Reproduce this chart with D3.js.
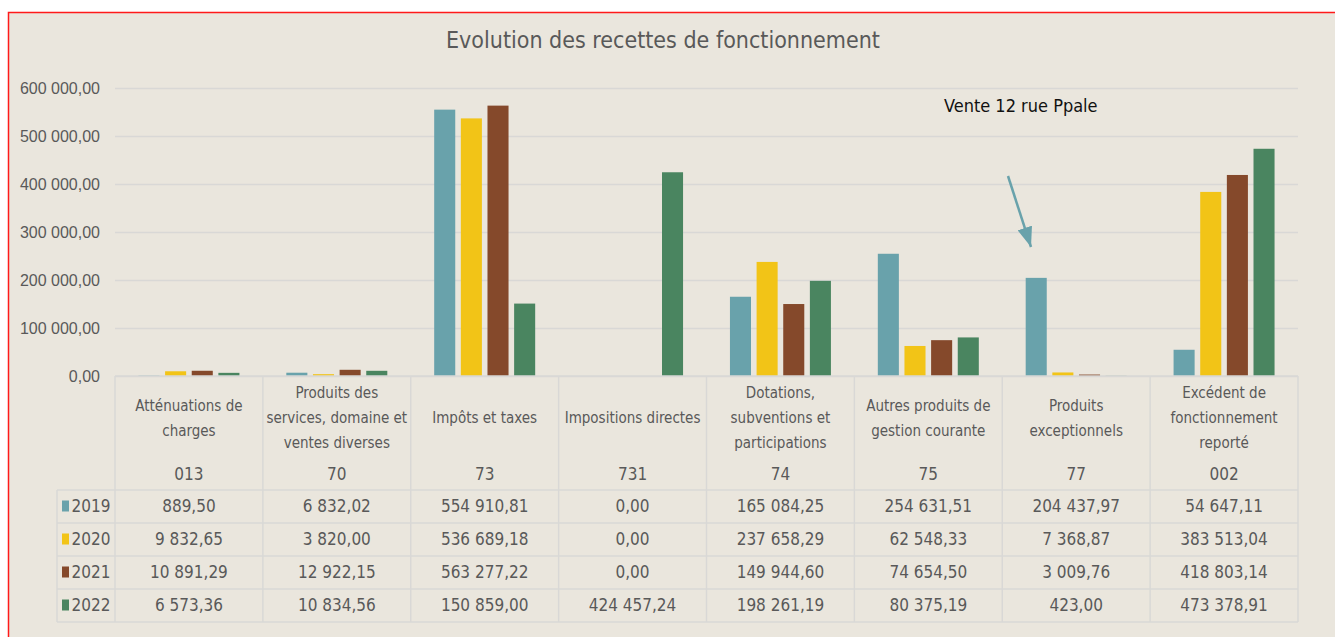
<!DOCTYPE html>
<html>
<head>
<meta charset="utf-8">
<script src="https://cdn.jsdelivr.net/npm/d3@7"></script>
<style>
  body { margin: 0; background: #fff; }
  text { font-family: "Liberation Sans Narrow", "DejaVu Sans Condensed", "Liberation Sans", sans-serif; }
</style>
</head>
<body>
<div id="chart"></div>
<script>
// categories (label lines + account code)
var catLabels = [
  ["Atténuations de", "charges"],
  ["Produits des", "services, domaine et", "ventes diverses"],
  ["Impôts et taxes"],
  ["Impositions directes"],
  ["Dotations,", "subventions et", "participations"],
  ["Autres produits de", "gestion courante"],
  ["Produits", "exceptionnels"],
  ["Excédent de", "fonctionnement", "reporté"]
];
var catCodes = ["013", "70", "73", "731", "74", "75", "77", "002"];

var years = ["2019", "2020", "2021", "2022"];
var colors = ["#69A2AB", "#F2C417", "#85492B", "#4A8560"];

var v2019 = [889.50, 6832.02, 554910.81, 0.00, 165084.25, 254631.51, 204437.97, 54647.11];
var v2020 = [9832.65, 3820.00, 536689.18, 0.00, 237658.29, 62548.33, 7368.87, 383513.04];
var v2021 = [10891.29, 12922.15, 563277.22, 0.00, 149944.60, 74654.50, 3009.76, 418803.14];
var v2022 = [6573.36, 10834.56, 150859.00, 424457.24, 198261.19, 80375.19, 423.00, 473378.91];

var yTicks = [0, 100000, 200000, 300000, 400000, 500000, 600000];

var series = [v2019, v2020, v2021, v2022];

var fr = d3.formatLocale({decimal: ",", thousands: " ", grouping: [3], currency: ["", "€"]});
var fmt = fr.format(",.2f");

var width = 1335, height = 637;
var left = 115, right = 1298, plotTop = 88, base = 376;

var svg = d3.select("#chart").append("svg")
    .attr("width", width)
    .attr("height", height);

// chart area with red frame
svg.append("rect")
    .attr("x", 8.5).attr("y", 12.5)
    .attr("width", 1400).attr("height", 700)
    .attr("fill", "#EAE6DD")
    .attr("stroke", "#FF1A1A")
    .attr("stroke-width", 1.5);

var x0 = d3.scaleBand()
    .domain(d3.range(catCodes.length))
    .range([left, right]);

var x1 = d3.scaleBand()
    .domain(years)
    .range([0, x0.bandwidth()])
    .paddingInner(0.21)
    .paddingOuter(0.88);

var y = d3.scaleLinear()
    .domain([0, 600000])
    .range([base, plotTop]);

// title
svg.append("text")
    .attr("x", 663).attr("y", 48)
    .attr("text-anchor", "middle")
    .attr("font-size", "23px")
    .attr("fill", "#595959")
    .text("Evolution des recettes de fonctionnement");

// gridlines + y axis
var yAxis = svg.append("g")
    .attr("transform", "translate(" + left + ",0)")
    .call(d3.axisLeft(y).tickValues(yTicks).tickSize(-(right - left)).tickPadding(15).tickFormat(fmt));
yAxis.select(".domain").remove();
yAxis.selectAll(".tick line")
    .attr("stroke", "#D9D8D6")
    .attr("stroke-width", 1.5);
yAxis.selectAll(".tick text")
    .attr("fill", "#595959")
    .attr("font-size", "16px")
    .style("font-family", "'Liberation Sans', Arial, sans-serif");

// bars
var groups = svg.selectAll(".grp")
    .data(catCodes)
    .join("g")
      .attr("class", "grp")
      .attr("transform", function(d, i) { return "translate(" + x0(i) + ",0)"; });

groups.selectAll("rect")
    .data(function(d, i) { return years.map(function(yr, j) { return {yr: yr, j: j, v: series[j][i]}; }); })
    .join("rect")
      .attr("x", function(d) { return x1(d.yr); })
      .attr("y", function(d) { return y(d.v); })
      .attr("width", x1.bandwidth())
      .attr("height", function(d) { return base - y(d.v); })
      .attr("fill", function(d) { return colors[d.j]; });

// data table
var rowTop = 490, rowH = 33, legLeft = 57;
var lineCol = "#D9D8D6";
var tbl = svg.append("g");

// horizontal lines
tbl.append("line")
    .attr("x1", left).attr("x2", right).attr("y1", base).attr("y2", base)
    .attr("stroke", lineCol).attr("stroke-width", 1.5);
for (var r = 0; r <= years.length; r++) {
  tbl.append("line")
      .attr("x1", legLeft).attr("x2", right)
      .attr("y1", rowTop + r * rowH).attr("y2", rowTop + r * rowH)
      .attr("stroke", lineCol).attr("stroke-width", 1.5);
}
// vertical lines
for (var c = 0; c <= catCodes.length; c++) {
  var xx = c < catCodes.length ? x0(c) : right;
  tbl.append("line")
      .attr("x1", xx).attr("x2", xx)
      .attr("y1", base).attr("y2", rowTop + years.length * rowH)
      .attr("stroke", lineCol).attr("stroke-width", 1.5);
}
tbl.append("line")
    .attr("x1", legLeft).attr("x2", legLeft)
    .attr("y1", rowTop).attr("y2", rowTop + years.length * rowH)
    .attr("stroke", lineCol).attr("stroke-width", 1.5);

// header cells
catLabels.forEach(function(lines, i) {
  var cx = x0(i) + x0.bandwidth() / 2;
  var y0 = 418 - (lines.length - 1) * 25 / 2;
  lines.forEach(function(t, k) {
    tbl.append("text")
        .attr("x", cx).attr("y", y0 + k * 25)
        .attr("dy", "0.35em")
        .attr("text-anchor", "middle")
        .attr("font-size", "15px")
        .attr("fill", "#595959")
        .text(t);
  });
  tbl.append("text")
      .attr("x", cx).attr("y", 474)
      .attr("dy", "0.35em")
      .attr("text-anchor", "middle")
      .attr("font-size", "17px")
      .attr("fill", "#595959")
      .text(catCodes[i]);
});

// value rows
years.forEach(function(yr, j) {
  var cy = rowTop + j * rowH + rowH / 2;
  tbl.append("rect")
      .attr("x", 62).attr("y", cy - 6)
      .attr("width", 7).attr("height", 11)
      .attr("fill", colors[j]);
  tbl.append("text")
      .attr("x", 91).attr("y", cy)
      .attr("dy", "0.35em")
      .attr("text-anchor", "middle")
      .attr("font-size", "17px")
      .attr("fill", "#595959")
      .text(yr);
  series[j].forEach(function(v, i) {
    tbl.append("text")
        .attr("x", x0(i) + x0.bandwidth() / 2).attr("y", cy)
        .attr("dy", "0.35em")
        .attr("text-anchor", "middle")
        .attr("font-size", "17px")
        .attr("fill", "#595959")
        .text(fmt(v));
  });
});

// annotation
svg.append("defs").append("marker")
    .attr("id", "arr")
    .attr("viewBox", "0 0 10 10")
    .attr("refX", 10).attr("refY", 5)
    .attr("markerWidth", 8).attr("markerHeight", 6)
    .attr("markerUnits", "strokeWidth")
    .attr("orient", "auto")
    .attr("preserveAspectRatio", "none")
  .append("path")
    .attr("d", "M0,0 L10,5 L0,10 z")
    .attr("fill", "#69A2AB");

svg.append("line")
    .attr("x1", 1008).attr("y1", 176)
    .attr("x2", 1031).attr("y2", 247)
    .attr("stroke", "#69A2AB")
    .attr("stroke-width", 2.5)
    .attr("marker-end", "url(#arr)");

svg.append("text")
    .attr("x", 944).attr("y", 112)
    .attr("font-size", "18px")
    .attr("fill", "#111")
    .text("Vente 12 rue Ppale");
</script>
</body>
</html>
